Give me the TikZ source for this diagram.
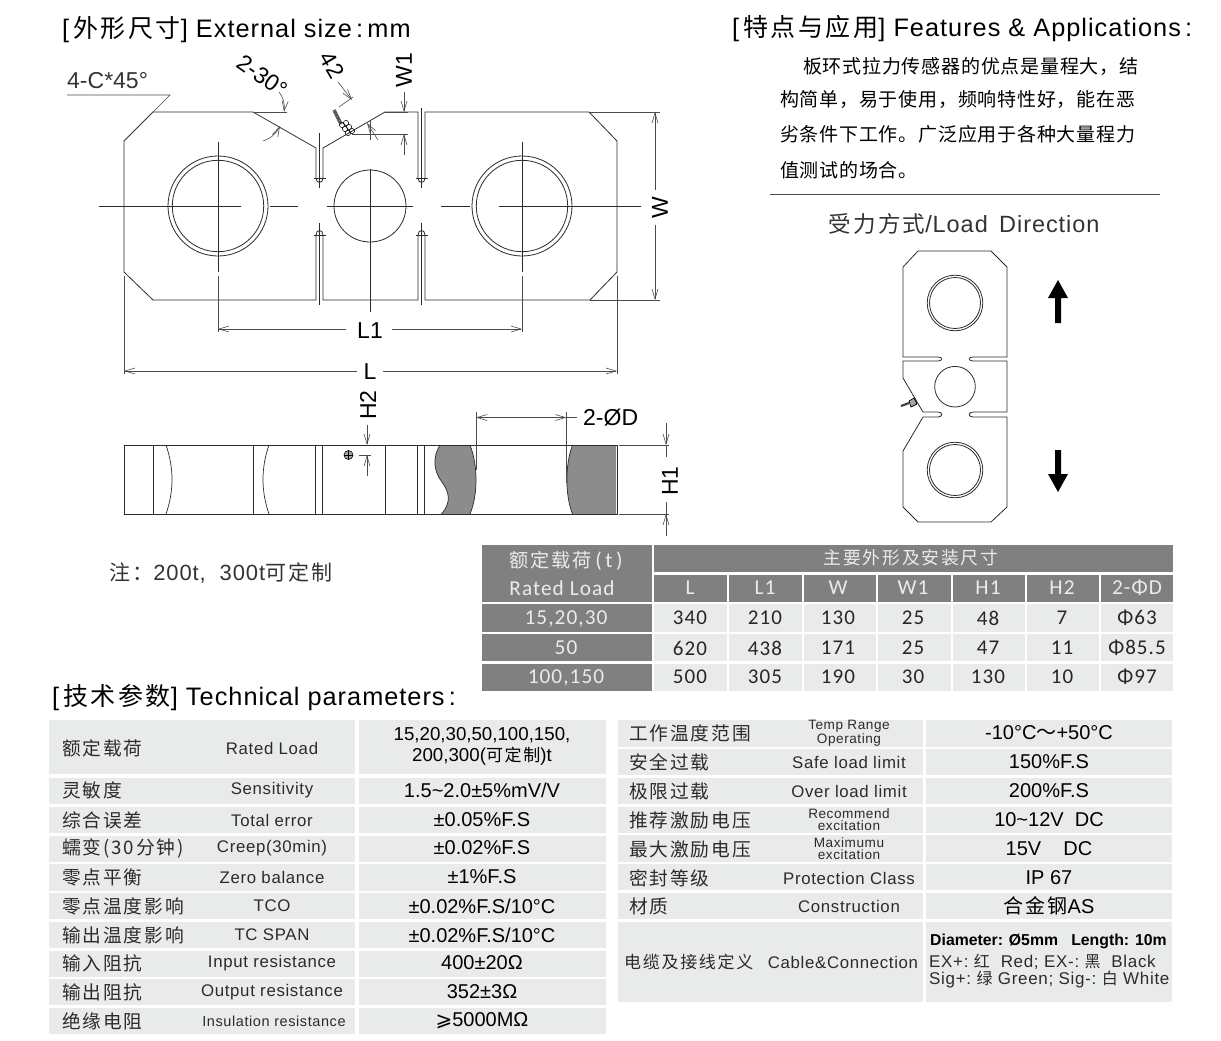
\documentclass[tikz,border=0pt]{standalone}
\usepackage{fontspec}
\setmainfont{Liberation Sans}
\newfontfamily\cjk[LetterSpace=10]{Noto Sans CJK SC}
\newfontfamily\cjkp[LetterSpace=4]{Noto Sans CJK SC}
\newfontfamily\enfont[LetterSpace=4]{Liberation Sans}
\newfontfamily\tabfont[LetterSpace=5]{Carlito}
\newfontfamily\djv{DejaVu Sans}
\usetikzlibrary{arrows.meta, positioning}
\newcommand{\fs}[1]{\fontsize{#1}{#1}\selectfont}
\newcommand{\tld}{\symbol{126}}
\definecolor{cellgray}{HTML}{E9EBEA}
\definecolor{headgray}{HTML}{808080}
\definecolor{inkgray}{HTML}{2B2B2B}

\begin{document}
\begin{tikzpicture}[
    x=1pt, y=-1pt,
    every node/.style={inner sep=0pt, text=inkgray},
    >={Straight Barb[length=10pt,width=6pt]},
    % Node styles
    heading/.style={font=\fs{25.3}\enfont, text=black, anchor=west},
    dimtext/.style={font=\fs{23}, text=black},
    para/.style={font=\fs{19}\cjkp, text=black, anchor=west},
    tabhead/.style={font=\fs{21.3}\tabfont, text=white!92!black},
    tabval/.style={font=\fs{21}\tabfont, text=black!85},
    rowcn/.style={font=\fs{18.7}\cjk, anchor=west},
    rowen/.style={font=\fs{16.8}\enfont},
    rowen small/.style={font=\fontsize{13.6}{12}\selectfont\enfont, align=center},
    rowval/.style={font=\fs{20}, text=black},
    % Line styles
    outline/.style={line width=0.8pt, draw=inkgray},
    centre/.style={line width=0.7pt, draw=inkgray},
    dim/.style={line width=0.6pt, draw=black!70},
    cell/.style={fill=cellgray},
    head/.style={fill=headgray},
]
\useasboundingbox (0,0) rectangle (1221,1041);

% ============================================================================
% HEADINGS
% ============================================================================
\node[heading] (sizehead) at (62,29.5) {[\,{\fs{25}\cjk 外形尺寸}] External size{\,:\,}mm};
\node[heading] (usehead) at (732,28.5) {[\,{\fs{25}\cjk 特点与应用}] Features \& Applications{\,:}};
\node[heading] (techhead) at (52,697.5) {[\,{\fs{25}\cjk 技术参数}] Technical parameters{\,:}};

% ============================================================================
% TOP VIEW
% ============================================================================
\draw[outline] (124,141) -- (153,112) -- (253,112) -- (316,148) -- (316,178)
    .. controls (316,184) and (323,184) .. (323,178) -- (323,148) -- (385,112) -- (418,112) -- (418,178)
    .. controls (418,184) and (425,184) .. (425,178) -- (425,112) -- (589,112) -- (617,141) -- (617,272)
    -- (590,300) -- (425,300) -- (425,235)
    .. controls (425,229) and (418,229) .. (418,235) -- (418,300) -- (323,300) -- (323,235)
    .. controls (323,229) and (316,229) .. (316,235) -- (316,300) -- (153,300) -- (124,272) -- cycle;

% Holes
\foreach \x in {218, 522} {
    \draw[outline] (\x,206) circle (50);
    \draw[outline] (\x,206) circle (45.7);
    \draw[centre] (\x,142) -- (\x,272);
    \draw[dim] (\x,276) -- (\x,332);
}
\draw[outline] (370,206) circle (36);

% Centre lines
\draw[centre] (99,206) -- (241,206);
\draw[centre] (270,206) -- (298,206);
\draw[centre] (327,206) -- (413,206);
\draw[centre] (441,206) -- (470,206);
\draw[centre] (499,206) -- (641,206);
\draw[centre] (370,169) -- (370,312);
\draw[dim] (370,120) -- (370,140);

% Slit centre lines
\draw[centre] (319.5,133) -- (319.5,188);
\draw[centre] (421.5,108) -- (421.5,188);
\draw[centre] (319.5,223) -- (319.5,305);
\draw[centre] (421.5,223) -- (421.5,305);
\foreach \x in {319.5, 421.5} {
    \draw[centre] (\x-6,178) -- (\x+6,178);
    \draw[centre] (\x-6,235) -- (\x+6,235);
}

% Sensor connector on the slope
\draw[line width=3.5pt, draw=black!75, dash pattern=on 1pt off 0.5pt] (334,110) -- (341,124);
\foreach \pos in {(342,125), (346,123), (345,129), (349,127), (348,133), (352,131)} {
    \draw[line width=0.5pt] \pos circle (2.6);
}

% 4-C*45
\node[font=\fs{23}, text=black!80, anchor=west] (chamfertxt) at (67,81) {4-C*45°};
\draw[dim] (67,95) -- (170,95) -- (124,141);

% 2-30 degrees
\node[dimtext, rotate=-35] (angletxt) at (262,76) {2-30°};
\draw[dim] (253,112) -- (287,112);
\draw[dim, ->] (279,92) .. controls (283,97) and (285,103) .. (284,112);
\draw[dim, ->] (263,141) .. controls (270,139) and (276,134) .. (280,126);

% 42
\node[dimtext, rotate=-60] (slopetxt) at (332,65) {42};
\draw[dim] (339,107) -- (353,97);
\draw[dim, ->] (338,82) -- (352,100);
\draw[dim, ->] (378,140) -- (367,123);

% W1
\node[dimtext, rotate=90] (w1txt) at (404,70) {W1};
\draw[dim] (385,112) -- (408,112);
\draw[dim] (352,134) -- (408,134);
\draw[dim, ->] (404,92) -- (404,112);
\draw[dim, ->] (404,155) -- (404,134);

% W
\node[dimtext, rotate=90] (wtxt) at (660,208) {W};
\draw[dim] (590,112) -- (660,112);
\draw[dim] (590,300) -- (660,300);
\draw[dim, ->] (655,190) -- (655,112);
\draw[dim, ->] (655,225) -- (655,300);

% L1 and L
\node[dimtext] (l1txt) at (370,331) {L1};
\draw[dim, ->] (346,329) -- (218,329);
\draw[dim, ->] (392,329) -- (522,329);
\node[dimtext] (ltxt) at (370,372) {L};
\draw[dim] (124,276) -- (124,374);
\draw[dim] (617,276) -- (617,374);
\draw[dim, ->] (357,371) -- (124,371);
\draw[dim, ->] (383,371) -- (617,371);

% ============================================================================
% SIDE VIEW
% ============================================================================
\fill[fill=black!45] (440,445) .. controls (432,458) and (434,472) .. (442,482)
    .. controls (450,493) and (451,503) .. (441.5,514) -- (470,514)
    .. controls (478,495) and (478,465) .. (470,445) -- cycle;
\fill[fill=black!45] (572.5,445) .. controls (565,465) and (565,495) .. (572.5,514) -- (616,514) -- (616,445) -- cycle;
\draw[outline] (124,445) rectangle (617,514);
\foreach \x in {153, 253, 315, 322.5, 385, 417, 424} {
    \draw[centre] (\x,445) -- (\x,514);
}
\draw[centre] (166,445) .. controls (174,468) and (174,491) .. (166,514);
\draw[centre] (269,445) .. controls (261,468) and (261,491) .. (269,514);
\draw[centre] (440,445) .. controls (432,458) and (434,472) .. (442,482)
    .. controls (450,493) and (451,503) .. (441.5,514);
\draw[centre] (470,445) .. controls (478,465) and (478,495) .. (470,514);
\draw[centre] (572.5,445) .. controls (565,465) and (565,495) .. (572.5,514);

% Cable hole
\draw[line width=0.6pt, fill=black!35] (348.5,455) circle (4.5);
\draw[line width=0.4pt] (344,455) -- (353,455);
\draw[line width=0.4pt] (348.5,450.5) -- (348.5,459.5);

% 2-D
\node[dimtext, anchor=west] (dtxt) at (583,418) {2-ØD};
\draw[dim] (476,412) -- (476,470);
\draw[dim] (566.5,412) -- (566.5,483);
\draw[dim, <->] (476,417.5) -- (566.5,417.5);
\draw[dim] (566.5,417.5) -- (577,417.5);

% H2
\node[dimtext, rotate=90] (h2txt) at (368,405) {H2};
\draw[dim, ->] (367,425) -- (367,445);
\draw[dim, ->] (367,476) -- (367,455);
\draw[dim] (359,455) -- (371,455);

% H1
\node[dimtext, rotate=90] (h1txt) at (670,481) {H1};
\draw[dim] (619,445) -- (669,445);
\draw[dim] (619,514) -- (669,514);
\draw[dim, ->] (666,423) -- (666,445);
\draw[dim] (666,445) -- (666,457);
\draw[dim] (666,502) -- (666,514);
\draw[dim, ->] (666,536) -- (666,514);

\node[font=\fs{22}\enfont, text=black!80, anchor=west] (note) at (109,573) {{\fs{21}\cjk 注：}200t,\ \ 300t{\fs{21}\cjk 可定制}};

% ============================================================================
% FEATURES TEXT
% ============================================================================
\node[para] (para1) at (803,66) {板环式拉力传感器的优点是量程大，结};
\node[para] (para2) at (780,100) {构简单，易于使用，频响特性好，能在恶};
\node[para] (para3) at (780,134) {劣条件下工作。广泛应用于各种大量程力};
\node[para] (para4) at (780,170) {值测试的场合。};
\draw[line width=0.7pt, draw=black!70] (770,194) -- (1160,194);

% ============================================================================
% LOAD DIRECTION
% ============================================================================
\node[font=\fs{23.5}\enfont, text=black!80] (loadhead) at (964,224) {{\fs{22.5}\cjk 受力方式}/Load\ \,Direction};

\draw[outline] (903,267) -- (918,251) -- (991,251) -- (1007,267) -- (1007,357) -- (973,357)
    .. controls (968,357) and (968,361) .. (973,361) -- (1007,361) -- (1007,412) -- (973,412)
    .. controls (968,412) and (968,417) .. (973,417) -- (1007,417) -- (1007,507) -- (991,522)
    -- (918,522) -- (903,507) -- (903,451) -- (923,417) -- (938,417)
    .. controls (943,417) and (943,412) .. (938,412) -- (923,412) -- (903,378) -- (903,361) -- (938,361)
    .. controls (943,361) and (943,357) .. (938,357) -- (903,357) -- cycle;

\foreach \y in {303, 470} {
    \draw[outline] (955,\y) circle (27.8);
    \draw[outline] (955,\y) circle (25.5);
}
\draw[outline] (955,386.7) circle (20.3);

% Small sensor
\draw[line width=2.2pt, draw=black!80, dash pattern=on 1pt off 0.4pt] (901,406) -- (909,403);
\draw[line width=0.7pt, fill=black!35] (909,401) -- (914,398) -- (917,404) -- (911,407) -- cycle;

% Load arrows
\fill[fill=black] (1058,280) -- (1068,298) -- (1061,298) -- (1061,323) -- (1055,323) -- (1055,298) -- (1048,298) -- cycle;
\fill[fill=black] (1058,492) -- (1068,474) -- (1061,474) -- (1061,450) -- (1055,450) -- (1055,474) -- (1048,474) -- cycle;

% ============================================================================
% DIMENSION TABLE
% ============================================================================
\fill[head] (482,545) rectangle (652,602);
\fill[head] (654,545) rectangle (1173,572);
\foreach \l/\r in {654/727, 729/802, 804/876, 878/951, 953/1025, 1027/1099, 1101/1173} {
    \fill[head] (\l,575) rectangle (\r,602);
    \foreach \t/\b in {604/632, 634/661, 664/691} {
        \fill[cell] (\l,\t) rectangle (\r,\b);
    }
}
\foreach \t/\b in {604/632, 634/661, 664/691} {
    \fill[head] (482,\t) rectangle (652,\b);
}

\node[tabhead] (loadcn) at (566,561) {{\fs{19.2}\cjk 额定载荷}\,(\,t\,)};
\node[tabhead] (loaden) at (562,588) {Rated Load};
\node[tabhead] (mainhd) at (911,558) {\fs{17.8}\cjk 主要外形及安装尺寸};
\foreach \cx/\val [count=\c] in {690/L, 765/L1, 838/W, 913/W1, 988/H1, 1062/H2, 1137/2-ΦD} {
    \node[tabhead] (colhd\c) at (\cx,588) {\val};
}
\node[tabhead] (loadA) at (566,618.5) {15,20,30};
\node[tabhead] (loadB) at (566,648) {50};
\node[tabhead] (loadC) at (566,677.5) {100,150};
\foreach \cx/\val [count=\c] in {690/340, 765/210, 838/130, 913/25, 988/48, 1062/7, 1137/Φ63} {
    \node[tabval] (rowA\c) at (\cx,618) {\val};
}
\foreach \cx/\val [count=\c] in {690/620, 765/438, 838/171, 913/25, 988/47, 1062/11, 1137/Φ85.5} {
    \node[tabval] (rowB\c) at (\cx,648) {\val};
}
\foreach \cx/\val [count=\c] in {690/500, 765/305, 838/190, 913/30, 988/130, 1062/10, 1137/Φ97} {
    \node[tabval] (rowC\c) at (\cx,677) {\val};
}

% ============================================================================
% TECHNICAL PARAMETERS: LEFT
% ============================================================================
\foreach \t/\b in {720/774, 778/804, 807/833, 836/862, 864/891, 893/919, 922/948, 951/977, 979/1005, 1008/1034} {
    \fill[cell] (49,\t) rectangle (355,\b);
    \fill[cell] (359,\t) rectangle (606,\b);
}
\node[rowcn] (lcn0) at (62,748) {额定载荷};
\node[rowen] (len0) at (272,748) {Rated Load};
\node[rowval, align=center, font=\fontsize{18.7}{21}\selectfont] (lval0) at (482,746) {15,20,30,50,100,150,\\200,300({\fs{17}\cjk 可定制})t};
\foreach \y/\cn/\en/\val [count=\i] in {
    790/灵敏度/Sensitivity/{1.5\tld2.0±5\%mV/V},
    820/综合误差/Total error/{±0.05\%F.S},
    848/蠕变(30分钟)/Creep(30min)/{±0.02\%F.S},
    877/零点平衡/Zero balance/{±1\%F.S},
    906/零点温度影响/TCO/{±0.02\%F.S/10°C},
    935/输出温度影响/TC SPAN/{±0.02\%F.S/10°C},
    963/输入阻抗/Input resistance/{400±20Ω},
    992/输出阻抗/Output resistance/{352±3Ω}} {
    \node[rowcn] (lcn\i) at (62,\y) {\cn};
    \node[rowen] (len\i) at (272,\y) {\en};
    \node[rowval] (lval\i) at (482,\y) {\val};
}
\node[rowcn] (lcn9) at (62,1021) {绝缘电阻};
\node[rowen, font=\fs{14.5}\enfont] (len9) at (274,1021) {Insulation resistance};
\node[rowval] (lval9) at (482,1021) {{\djv ⩾}5000MΩ};

% ============================================================================
% TECHNICAL PARAMETERS: RIGHT
% ============================================================================
\foreach \t/\b in {720/747, 749/775, 778/804, 807/833, 835/862, 864/890, 893/919, 922/1002} {
    \fill[cell] (618,\t) rectangle (923,\b);
    \fill[cell] (926,\t) rectangle (1172,\b);
}
\foreach \y/\cn/\en/\val [count=\i] in {
    762/安全过载/Safe load limit/150\%F.S,
    791/极限过载/Over load limit/200\%F.S,
    878/密封等级/Protection Class/IP 67,
    906/材质/Construction/{{\cjk 合金钢}AS}} {
    \node[rowcn] (rcn\i) at (629,\y) {\cn};
    \node[rowen] (ren\i) at (849,\y) {\en};
    \node[rowval] (rval\i) at (1049,\y) {\val};
}
\node[rowcn] (rcnA) at (629,733) {工作温度范围};
\node[rowen small] (renA) at (849,733) {Temp Range\\Operating};
\node[rowval] (rvalA) at (1049,733) {-10°C{\cjk ～}+50°C};
\node[rowcn] (rcnB) at (629,820) {推荐激励电压};
\node[rowen small] (renB) at (849,820) {Recommend\\excitation};
\node[rowval] (rvalB) at (1049,820) {10\tld12V\ \ DC};
\node[rowcn] (rcnC) at (629,849) {最大激励电压};
\node[rowen small] (renC) at (849,849) {Maximumu\\excitation};
\node[rowval] (rvalC) at (1049,849) {15V\ \ \ \ DC};
\node[rowcn, font=\fs{17}\cjk] (rcnD) at (624,962) {电缆及接线定义};
\node[rowen] (renD) at (843,962) {Cable\&Connection};
\node[font=\fs{15.8}\bfseries, text=black, anchor=west] (cableA) at (930,941) {Diameter: Ø5mm\ \ \ Length: 10m};
\node[font=\fs{17}\enfont, anchor=west] (cableB) at (929,962) {EX+:\ {\fs{16}\cjk 红}\ \ Red;\ EX-:\ {\fs{16}\cjk 黑}\ \ Black};
\node[font=\fs{17}\enfont, anchor=west] (cableC) at (929,980) {Sig+:\ {\fs{16}\cjk 绿}\ Green;\ Sig-:\ {\fs{16}\cjk 白}\ White};

\end{tikzpicture}
\end{document}
